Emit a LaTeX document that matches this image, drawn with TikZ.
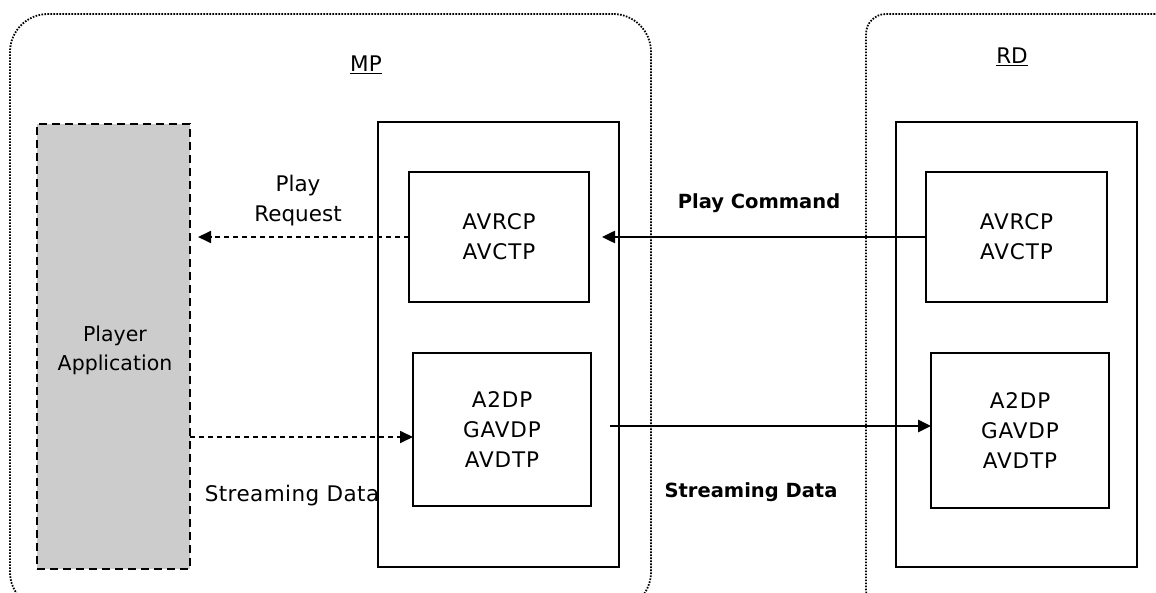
\documentclass[tikz,border=0pt]{standalone}
\usepackage{fontspec}
\setmainfont{DejaVu Sans}
\usetikzlibrary{arrows.meta}
\definecolor{appgray}{HTML}{CCCCCC}

\begin{document}
\begin{tikzpicture}[x=1pt,y=-1pt,
  every node/.style={font=\fontsize{21.5}{30}\selectfont, align=center, inner sep=0pt, outer sep=0pt},
  container/.style={draw, dash pattern=on 1.6pt off 1.4pt, line width=1.8pt},
  stackbox/.style={draw, line width=2pt, font=\fontsize{21.5}{30}\selectfont\addfontfeature{LetterSpace=4}},
  appbox/.style={draw, fill=appgray, dash pattern=on 8pt off 5pt, line width=2pt},
  dasharrow/.style={dash pattern=on 5pt off 4pt, line width=1.8pt, -{Triangle[length=13pt,width=12pt]}},
  solidarrow/.style={line width=2.5pt, -{Triangle[length=13pt,width=12pt]}},
  heavy/.style={font=\fontsize{19.5}{24}\selectfont\bfseries}
]
\clip (0,0) rectangle (1156,593);

% device containers
\node[container, rounded corners=38pt, minimum width=641pt, minimum height=596pt] (mp) at (330.5,312) {};
\node[container, rounded corners=20pt, minimum width=309pt, minimum height=596pt] (rd) at (1020.5,312) {};
\node (mplabel) at (366,65) {\underline{MP}};
\node (rdlabel) at (1012,57) {\underline{RD}};

% protocol stacks
\node[stackbox, minimum width=241pt, minimum height=445pt] (mpstack) at (498.5,344.5) {};
\node[stackbox, minimum width=241pt, minimum height=445pt] (rdstack) at (1016.5,344.5) {};

\node[stackbox, minimum width=180pt, minimum height=130pt] (mpavrcp) at (499,237) {AVRCP\\AVCTP};
\node[stackbox, minimum width=181pt, minimum height=130pt] (rdavrcp) at (1016.5,237) {AVRCP\\AVCTP};
\node[stackbox, minimum width=178pt, minimum height=153pt] (mpa2dp) at (502,429.5) {A2DP\\GAVDP\\AVDTP};
\node[stackbox, minimum width=178pt, minimum height=155pt] (rda2dp) at (1020,430.5) {A2DP\\GAVDP\\AVDTP};

% player application
\node[appbox, minimum width=153pt, minimum height=445pt] (player) at (113.5,346.5) {};
\node[font=\fontsize{20.5}{29}\selectfont] (playertext) at (115,350) {Player\\Application};

% connectors
\coordinate (sdlevel) at (0,437);
\coordinate (stlevel) at (0,426);
\draw[dasharrow, shorten >=8pt] (mpavrcp.west) -- (player.east |- mpavrcp.west);
\draw[solidarrow, shorten >=13pt] (rdavrcp.west) -- (mpavrcp.east);
\draw[dasharrow] (player.east |- sdlevel) -- (mpa2dp.west |- sdlevel);
\draw[solidarrow, shorten <=19pt] (mpa2dp.east |- stlevel) -- (rda2dp.west |- stlevel);

% connector labels
\node (playreq) at (298,201) {Play\\Request};
\node[heavy] (playcmd) at (759,203) {Play Command};
\node[font=\fontsize{21.5}{30}\selectfont\addfontfeature{LetterSpace=2}] (sdleft) at (292,496) {Streaming Data};
\node[heavy] (sdright) at (751,492) {Streaming Data};
\end{tikzpicture}
\end{document}
